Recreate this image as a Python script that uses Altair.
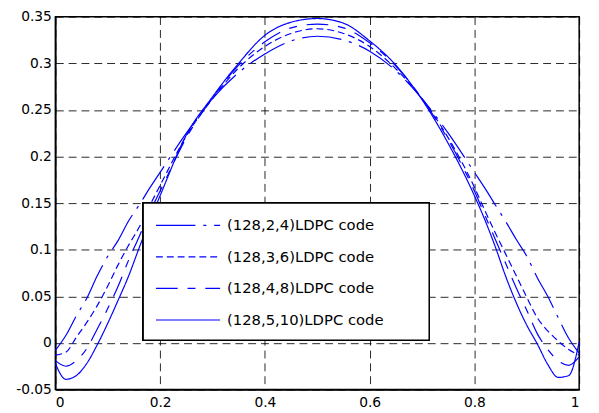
import altair as alt
import pandas as pd

x_vals = [0, 0.02, 0.04, 0.06, 0.08, 0.1, 0.12, 0.14, 0.16, 0.18, 0.2, 0.25, 0.3,
          0.35, 0.4, 0.45, 0.5, 0.55, 0.6, 0.65, 0.7, 0.75, 0.8, 0.82, 0.84, 0.86,
          0.88, 0.9, 0.92, 0.94, 0.96, 0.98, 1.0]

code_names = ["(128,2,4)LDPC code", "(128,3,6)LDPC code",
              "(128,4,8)LDPC code", "(128,5,10)LDPC code"]

y_124 = [-0.008, 0.008, 0.029, 0.048, 0.072, 0.093, 0.110, 0.131, 0.148, 0.166, 0.183,
         0.225, 0.262, 0.290, 0.310, 0.324, 0.329, 0.325, 0.313, 0.292, 0.262, 0.225,
         0.183, 0.166, 0.148, 0.130, 0.111, 0.093, 0.070, 0.050, 0.027, 0.005, -0.011]
y_136 = [-0.013, -0.010, 0.006, 0.022, 0.040, 0.061, 0.084, 0.105, 0.124, 0.147, 0.169,
         0.222, 0.262, 0.295, 0.318, 0.332, 0.337, 0.332, 0.318, 0.294, 0.262, 0.220,
         0.167, 0.142, 0.118, 0.095, 0.072, 0.049, 0.027, 0.013, 0.002, -0.007, -0.013]
y_148 = [-0.019, -0.025, -0.019, -0.006, 0.015, 0.037, 0.061, 0.089, 0.114, 0.140, 0.163,
         0.220, 0.263, 0.298, 0.323, 0.338, 0.342, 0.338, 0.322, 0.297, 0.262, 0.218,
         0.163, 0.137, 0.111, 0.085, 0.059, 0.035, 0.010, -0.007, -0.019, -0.024, -0.015]
y_1510 = [-0.022, -0.039, -0.035, -0.022, -0.002, 0.021, 0.046, 0.072, 0.102, 0.131, 0.158,
          0.223, 0.264, 0.300, 0.330, 0.344, 0.348, 0.343, 0.324, 0.298, 0.261, 0.214,
          0.158, 0.132, 0.103, 0.071, 0.043, 0.019, -0.001, -0.023, -0.037, -0.035, 0.001]

y_ticks = [-0.05, 0, 0.05, 0.1, 0.15, 0.2, 0.25, 0.3, 0.35]
x_ticks = [0, 0.2, 0.4, 0.6, 0.8, 1]

rows = []
for name, ys in zip(code_names, [y_124, y_136, y_148, y_1510]):
    for xv, yv in zip(x_vals, ys):
        rows.append({"x": xv, "y": yv, "code": name})
df = pd.DataFrame(rows)

font = "DejaVu Sans"
blue = "#0000ff"

axis_common = dict(
    grid=True, gridColor="#000000", gridDash=[8, 5], gridWidth=1, gridOpacity=0.85,
    domain=True, domainColor="#000000", domainWidth=1.5,
    ticks=False, labelFont=font, labelFontSize=14, labelColor="#000000",
    title=None, format="~g",
    labelExpr="replace(datum.label, '\u2212', '-')",
)

lines = alt.Chart(df).mark_line(strokeWidth=1.2, color=blue, interpolate="monotone").encode(
    x=alt.X("x:Q", scale=alt.Scale(domain=[0, 1], nice=False),
            axis=alt.Axis(values=x_ticks, labelPadding=6, **axis_common)),
    y=alt.Y("y:Q", scale=alt.Scale(domain=[-0.05, 0.35], nice=False, zero=False),
            axis=alt.Axis(values=y_ticks, labelPadding=4, **axis_common)),
    strokeDash=alt.StrokeDash(
        "code:N",
        scale=alt.Scale(domain=code_names,
                        range=[[40, 8, 3, 8], [7, 4], [22, 10, 8, 10], [1, 0]]),
        legend=alt.Legend(
            title=None, orient="none", legendX=89, legendY=192,
            direction="vertical",
            symbolType="M-1,0H9", symbolSize=169, symbolStrokeWidth=1.2,
            symbolStrokeColor=blue, symbolFillColor="transparent",
            labelOffset=58, labelFont=font, labelFontSize=15,
            labelColor="#000000", labelLimit=400,
            rowPadding=16, padding=12,
        ),
    ),
)

legend_box = alt.Chart(df).mark_rect(
    fill="#ffffff", stroke="#000000", strokeWidth=1.5
).encode(
    x=alt.value(89), x2=alt.value(379), y=alt.value(189), y2=alt.value(328)
)

chart = alt.layer(lines, legend_box).properties(
    width=531, height=378,
    autosize=alt.AutoSizeParams(type="none"),
    padding={"left": 48, "top": 6, "right": 12, "bottom": 21},
).configure_view(
    stroke="#000000", strokeWidth=1.5
)

chart.save("out.html", embed_options={"renderer": "svg", "actions": False})
